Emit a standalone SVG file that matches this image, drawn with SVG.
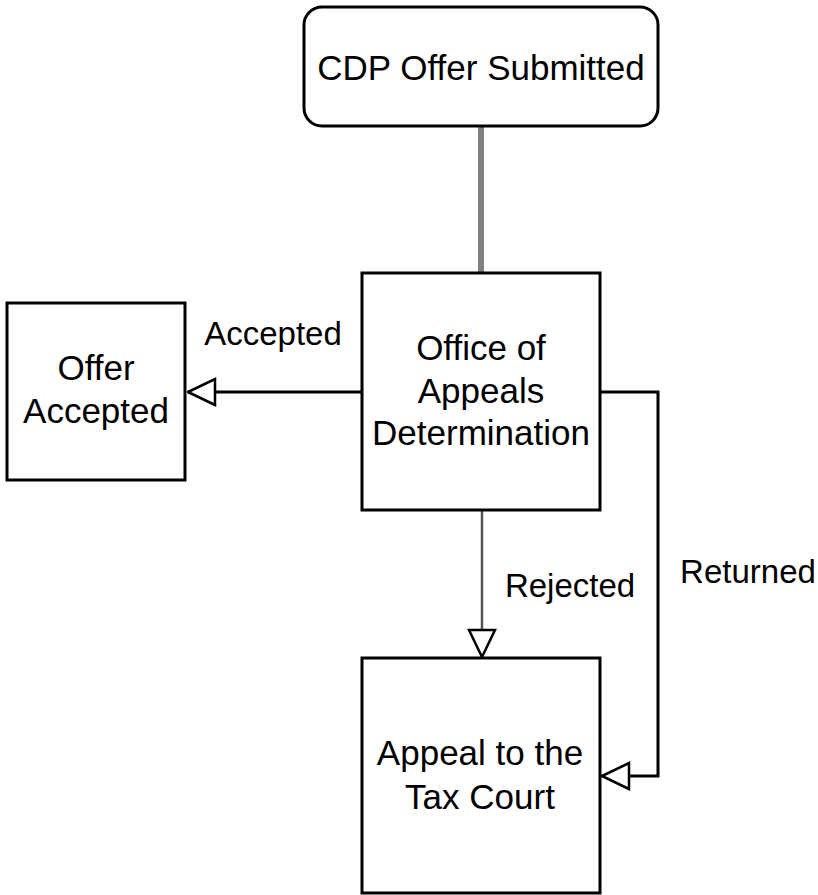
<svg xmlns="http://www.w3.org/2000/svg" width="818" height="895" viewBox="0 0 818 895">
<style>
.box{fill:#fff;stroke:#000;stroke-width:3}
.t{font-family:"Liberation Sans",Arial,sans-serif;font-size:35px;fill:#000;text-anchor:middle}
.l{font-family:"Liberation Sans",Arial,sans-serif;font-size:33px;fill:#000;text-anchor:middle}
.e{fill:none;stroke:#000;stroke-width:3}
</style>
<defs>
<marker id="open" viewBox="0 0 30 30" refX="29" refY="15" markerWidth="30" markerHeight="30" markerUnits="userSpaceOnUse" orient="auto">
<path d="M2,2 L29,15 L2,28 Z" fill="#fff" stroke="#000" stroke-width="2.5"/>
</marker>
</defs>
<rect width="818" height="895" fill="#fff"/>
<g id="connectors">
<line x1="481" y1="126" x2="481" y2="273" stroke="#808080" stroke-width="6"/>
<line class="e" x1="362" y1="392" x2="188" y2="392" marker-end="url(#open)"/>
<line x1="482" y1="510" x2="482" y2="657" stroke="#555" stroke-width="2.5" marker-end="url(#open)"/>
<polyline class="e" points="600,392 658,392 658,776 602,776" marker-end="url(#open)"/>
</g>
<g id="edge-labels">
<text class="l" x="273" y="345">Accepted</text>
<text class="l" x="570" y="597">Rejected</text>
<text class="l" x="748" y="583">Returned</text>
</g>
<g id="cdp-offer-submitted">
<rect class="box" x="304" y="7" width="354" height="119" rx="18"/>
<text class="t" x="481" y="80">CDP Offer Submitted</text>
</g>
<g id="office-of-appeals">
<rect class="box" x="362" y="273" width="238" height="237"/>
<text class="t" x="481" y="360">Office of</text>
<text class="t" x="481" y="403">Appeals</text>
<text class="t" x="481" y="445">Determination</text>
</g>
<g id="offer-accepted">
<rect class="box" x="7" y="303" width="178" height="177"/>
<text class="t" x="96" y="380">Offer</text>
<text class="t" x="96" y="423">Accepted</text>
</g>
<g id="appeal-tax-court">
<rect class="box" x="362" y="658" width="238" height="235"/>
<text class="t" x="480" y="765">Appeal to the</text>
<text class="t" x="480" y="809">Tax Court</text>
</g>
</svg>
